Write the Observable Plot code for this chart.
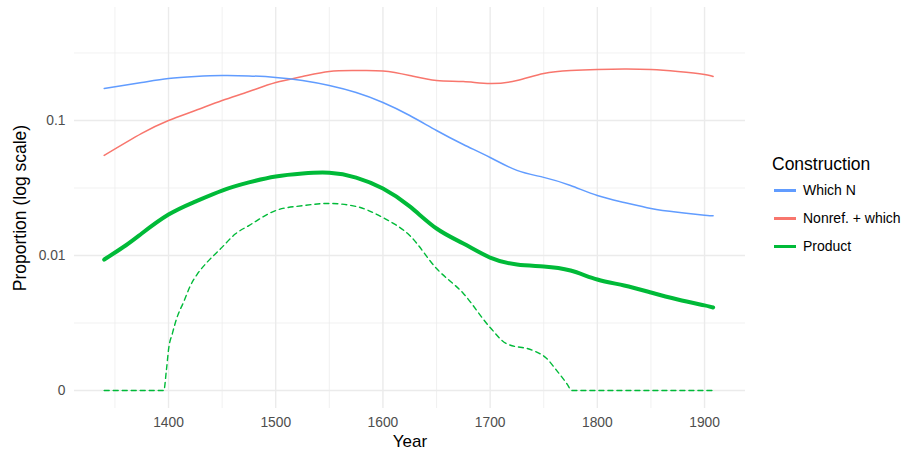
<!DOCTYPE html>
<html>
<head>
<meta charset="utf-8">
<script src="https://cdn.jsdelivr.net/npm/d3@7"></script>
<script src="https://cdn.jsdelivr.net/npm/@observablehq/plot@0.6"></script>
<style>
  html, body { margin: 0; padding: 0; background: #fff; }
  #wrap { position: relative; width: 904px; height: 452px; font-family: "Liberation Sans", Arial, Helvetica, sans-serif; }
  #chart { position: absolute; left: 0; top: 0; }
  #legend { position: absolute; left: 772px; top: 152px; }
  #legend .title { font-size: 17.5px; color: #000; line-height: 24px; }
  #legend .item { position: absolute; left: 0; height: 20px; display: flex; align-items: center; white-space: nowrap; }
  #legend .key { width: 22px; height: 3px; margin-left: 2px; margin-right: 7px; }
  #legend .lab { font-size: 14px; color: #000; }
</style>
</head>
<body>
<div id="wrap">
  <div id="chart"></div>
  <div id="legend"></div>
</div>
<script>
// ---- Data ----
const seriesNames = ["Which N", "Nonref. + which", "Product"];
const seriesColors = ["#619CFF", "#F8766D", "#00BA38"];

const whichYears  = [1340, 1375, 1400, 1425, 1450, 1475, 1500, 1525, 1550, 1575, 1600, 1625, 1650, 1675, 1700, 1725, 1750, 1775, 1800, 1825, 1850, 1875, 1900, 1908];
const whichValues = [0.1726, 0.191, 0.2047, 0.2118, 0.2154, 0.214, 0.2086, 0.1977, 0.1815, 0.161, 0.1359, 0.1089, 0.0843, 0.0664, 0.0532, 0.0427, 0.0379, 0.0330, 0.0278, 0.0247, 0.0223, 0.0209, 0.0199, 0.0197];

const nonrefYears  = [1340, 1375, 1400, 1425, 1450, 1475, 1500, 1525, 1550, 1575, 1600, 1625, 1650, 1675, 1700, 1725, 1750, 1775, 1800, 1825, 1850, 1875, 1900, 1908];
const nonrefValues = [0.0551, 0.0802, 0.1, 0.1186, 0.1406, 0.164, 0.191, 0.2118, 0.2307, 0.2344, 0.2327, 0.2154, 0.1977, 0.1943, 0.1879, 0.1977, 0.2229, 0.2344, 0.2387, 0.2408, 0.2387, 0.2307, 0.2193, 0.2118];

const productYears  = [1340, 1360, 1375, 1400, 1425, 1450, 1475, 1500, 1525, 1550, 1575, 1600, 1625, 1650, 1675, 1700, 1725, 1750, 1775, 1800, 1825, 1850, 1875, 1900, 1908];
const productValues = [0.00933, 0.01186, 0.01455, 0.0201, 0.0251, 0.0303, 0.0348, 0.0385, 0.0405, 0.041, 0.0378, 0.0313, 0.0231, 0.01585, 0.01227, 0.00966, 0.00857, 0.0083, 0.00774, 0.00664, 0.0060, 0.00532, 0.00472, 0.00427, 0.00412];

// dashed green line (no series label in the legend); zeros sit on the "0" gridline
const productObsYears  = [1340, 1395.6, 1398, 1400.3, 1403.5, 1408, 1414, 1420.5, 1427, 1436, 1448.5, 1462.5, 1475, 1500, 1525, 1550, 1575, 1600, 1625, 1650, 1675, 1700, 1715, 1740, 1752, 1762, 1772, 1776, 1908];
const productObsValues = [0, 0, 0.00141, 0.00209, 0.00263, 0.00349, 0.00451, 0.006, 0.00731, 0.00892, 0.01121, 0.01448, 0.01667, 0.02154, 0.0234, 0.0243, 0.0231, 0.0191, 0.01406, 0.00801, 0.00524, 0.00293, 0.00223, 0.00198, 0.00175, 0.00141, 0.00111, 0, 0];

const xTicks = [1400, 1500, 1600, 1700, 1800, 1900];
const xMinorTicks = [1350, 1450, 1550, 1650, 1750, 1850];
const yTicks = [0.001, 0.01, 0.1];
const yTickLabels = ["0", "0.01", "0.1"];
const yMinorTicks = [0.0031623, 0.031623, 0.31623];

const zeroFloor = 0.001;

// ---- Build tables ----
const toRows = (years, values, series) => years.map((y, i) => ({year: y, value: values[i], series}));
const whichRows = toRows(whichYears, whichValues, seriesNames[0]);
const nonrefRows = toRows(nonrefYears, nonrefValues, seriesNames[1]);
const productRows = toRows(productYears, productValues, seriesNames[2]);
const productObsRows = toRows(productObsYears, productObsValues, seriesNames[2]);

const yLabelMap = new Map(yTicks.map((t, i) => [t, yTickLabels[i]]));
const font = '"Liberation Sans", Arial, Helvetica, sans-serif';

const chart = Plot.plot({
  width: 760,
  height: 452,
  marginLeft: 74,
  marginRight: 15,
  marginTop: 7,
  marginBottom: 44,
  style: {fontFamily: font, background: "white", overflow: "visible"},
  x: {type: "linear", domain: [1312.3, 1938.2]},
  y: {type: "log", domain: [0.000736, 0.687]},
  color: {domain: seriesNames, range: seriesColors},
  marks: [
    Plot.ruleX(xMinorTicks, {stroke: "#ebebeb", strokeWidth: 0.7}),
    Plot.ruleX(xTicks, {stroke: "#ebebeb", strokeWidth: 1.4}),
    Plot.ruleY(yMinorTicks, {stroke: "#ebebeb", strokeWidth: 0.7}),
    Plot.ruleY(yTicks, {stroke: "#ebebeb", strokeWidth: 1.4}),
    Plot.axisX({ticks: xTicks, tickSize: 0, tickPadding: 9, fontSize: 13.8, color: "#4d4d4d", label: null, tickFormat: d => String(d)}),
    Plot.axisY({ticks: yTicks, tickSize: 0, tickPadding: 9, fontSize: 13.8, color: "#4d4d4d", label: null, tickFormat: d => yLabelMap.get(d)}),
    Plot.text(["Proportion (log scale)"], {frameAnchor: "left", textAnchor: "middle", lineAnchor: "middle", dx: -54, rotate: -90, fontSize: 17.5, fill: "#000"}),
    Plot.text(["Year"], {frameAnchor: "bottom", textAnchor: "middle", lineAnchor: "middle", dy: 33, fontSize: 17, fill: "#000"}),
    Plot.line(productObsRows, {x: "year", y: d => Math.max(d.value, zeroFloor), stroke: "series", strokeWidth: 1.4, strokeDasharray: "5,4", curve: "monotone-x"}),
    Plot.line(nonrefRows, {x: "year", y: "value", stroke: "series", strokeWidth: 1.5, curve: "natural"}),
    Plot.line(whichRows, {x: "year", y: "value", stroke: "series", strokeWidth: 1.5, curve: "natural"}),
    Plot.line(productRows, {x: "year", y: "value", stroke: "series", strokeWidth: 4, curve: "natural"})
  ]
});
document.getElementById("chart").appendChild(chart);

// ---- Legend ----
const legend = document.getElementById("legend");
const title = document.createElement("div");
title.className = "title";
title.textContent = "Construction";
legend.appendChild(title);
const itemTops = [28, 56, 84];
seriesNames.forEach((name, i) => {
  const item = document.createElement("div");
  item.className = "item";
  item.style.top = itemTops[i] + "px";
  const key = document.createElement("div");
  key.className = "key";
  key.style.background = seriesColors[i];
  const lab = document.createElement("span");
  lab.className = "lab";
  lab.textContent = name;
  item.appendChild(key);
  item.appendChild(lab);
  legend.appendChild(item);
});
</script>
</body>
</html>
